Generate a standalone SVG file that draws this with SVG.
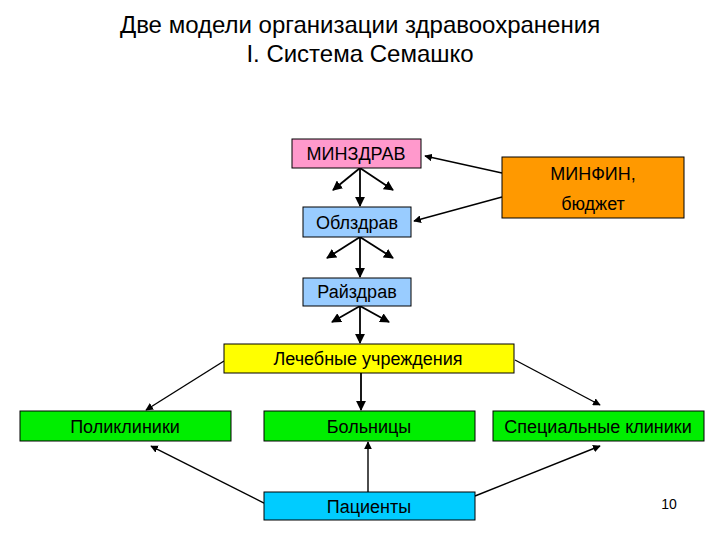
<svg xmlns="http://www.w3.org/2000/svg" width="720" height="540" viewBox="0 0 720 540">
<defs>
<marker id="ah" viewBox="0 0 10 10" refX="9" refY="5" markerWidth="5.5" markerHeight="5.5" orient="auto" markerUnits="strokeWidth">
<path d="M0,0 L10,5 L0,10 z" fill="#000"/>
</marker>
<style>
.box{stroke:#000;stroke-width:1}
.lbl{font-family:"Liberation Sans",Arial,sans-serif;font-size:18px;text-anchor:middle;fill:#000}
.ttl{font-family:"Liberation Sans",Arial,sans-serif;font-size:24px;text-anchor:middle;fill:#000}
.c{stroke:#000;stroke-width:1.8;fill:none;marker-end:url(#ah)}
.t{stroke:#000;stroke-width:1.4;fill:none;marker-end:url(#ah)}
</style>
</defs>
<rect width="720" height="540" fill="#fff"/>
<text class="ttl" x="360" y="33">Две модели организации здравоохранения</text>
<text class="ttl" x="360" y="62">I. Система Семашко</text>

<g id="connectors">
<line class="t" x1="502" y1="173" x2="425" y2="156"/>
<line class="t" x1="502" y1="197" x2="414" y2="221"/>
<line class="c" x1="360" y1="168" x2="360" y2="206"/>
<line class="c" x1="360" y1="168" x2="333" y2="190"/>
<line class="c" x1="360" y1="168" x2="393" y2="190"/>
<line class="c" x1="360" y1="237" x2="360" y2="277"/>
<line class="c" x1="360" y1="237" x2="327" y2="258"/>
<line class="c" x1="360" y1="237" x2="393" y2="258"/>
<line class="c" x1="360" y1="306" x2="360" y2="343"/>
<line class="c" x1="360" y1="306" x2="332" y2="322"/>
<line class="c" x1="360" y1="306" x2="389" y2="322"/>
<line class="t" x1="224" y1="361" x2="146" y2="410"/>
<line class="c" x1="361" y1="373" x2="361" y2="410"/>
<line class="t" x1="515" y1="360" x2="600" y2="405"/>
<line class="t" x1="264" y1="503" x2="151" y2="446"/>
<line class="t" x1="368" y1="492" x2="368" y2="442"/>
<line class="t" x1="475" y1="496" x2="600" y2="446"/>
</g>

<g id="minzdrav"><rect class="box" x="292" y="139" width="129" height="29" fill="#FF99CC"/><text class="lbl" x="356" y="160">МИНЗДРАВ</text></g>
<g id="minfin"><rect class="box" x="502" y="157" width="182" height="61" fill="#FF9900"/><text class="lbl" x="593" y="180">МИНФИН,</text><text class="lbl" x="593" y="210">бюджет</text></g>
<g id="oblzdrav"><rect class="box" x="303" y="207" width="108" height="30" fill="#99CCFF"/><text class="lbl" x="357" y="229">Облздрав</text></g>
<g id="rayzdrav"><rect class="box" x="303" y="278" width="108" height="28" fill="#99CCFF"/><text class="lbl" x="357" y="298">Райздрав</text></g>
<g id="lech"><rect class="box" x="224" y="344" width="290" height="29" fill="#FFFF00"/><text class="lbl" x="368" y="365">Лечебные учреждения</text></g>
<g id="poli"><rect class="box" x="20" y="411" width="211" height="30" fill="#00EE00"/><text class="lbl" x="125" y="433">Поликлиники</text></g>
<g id="boln"><rect class="box" x="264" y="411" width="211" height="30" fill="#00EE00"/><text class="lbl" x="369" y="433">Больницы</text></g>
<g id="spec"><rect class="box" x="493" y="411" width="211" height="30" fill="#00EE00"/><text class="lbl" x="598" y="433">Специальные клиники</text></g>
<g id="pac"><rect class="box" x="264" y="492" width="211" height="28" fill="#00CCFF"/><text class="lbl" x="369" y="513">Пациенты</text></g>
<text x="669" y="509" style="font-family:'Liberation Sans',Arial,sans-serif;font-size:14px;text-anchor:middle">10</text>
</svg>
